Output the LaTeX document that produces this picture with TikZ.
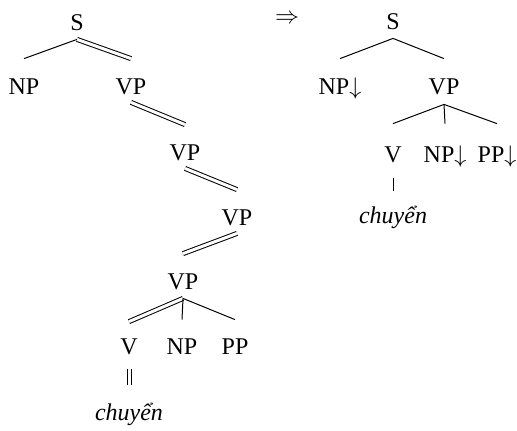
\documentclass[tikz,border=0pt]{standalone}
\usepackage{fontspec}
\setmainfont{Liberation Serif}
\begin{document}
\begin{tikzpicture}[x=0.5pt, y=-0.5pt,
    cat/.style={inner sep=0pt, text height=8pt, text depth=0pt, font=\fontsize{12}{14}\selectfont},
    lex/.style={cat, font=\fontsize{12}{14}\selectfont\itshape},
    br/.style={line width=0.5pt},
    dbl/.style={double, double distance=1.5pt, line width=0.5pt}]
\useasboundingbox (0,0) rectangle (517,430);

% Derived tree (left)
\node[cat] (s) at (77,22) {S};
\node[cat] (np) at (24,86) {NP};
\node[cat] (vp) at (131,86) {VP};
\node[cat] (vpb) at (185,152) {VP};
\node[cat] (vpc) at (237,217) {VP};
\node[cat] (vpd) at (183,281) {VP};
\node[cat] (v) at (129,346) {V};
\node[cat] (npo) at (182,346) {NP};
\node[cat] (pp) at (235,346) {PP};
\node[lex] (word) at (129,412) {chuyển};

\draw[dbl] ([yshift=-4.5pt]s.south) -- ([yshift=9.5pt]vp.north);
\draw[br] ([yshift=-4.5pt]s.south) -- ([yshift=9.5pt]np.north);
% spine of adjoined VPs
\foreach \a/\b in {vp/vpb, vpb/vpc, vpc/vpd}
    \draw[dbl] ([yshift=-4pt]\a.south) -- ([yshift=9.5pt]\b.north);
\draw[dbl] ([yshift=-4.5pt]vpd.south) -- ([yshift=8pt]v.north);
\draw[br] ([yshift=-4.5pt]vpd.south) -- ([yshift=9pt]npo.north);
\draw[br] ([yshift=-4.5pt]vpd.south) -- ([yshift=9pt]pp.north);
\draw[dbl] ([yshift=-7.5pt]v.south) -- ([yshift=9.5pt]word.north);

% Elementary tree (right)
\node[cat] (impl) at (287,15) {$\Rightarrow$};
\node[cat] (rs) at (393,21) {S};
\node[cat] (rnp) at (340,86) {NP$\downarrow$};
\node[cat] (rvp) at (444,86) {VP};
\node[cat] (rv) at (393,154) {V};
\node[cat] (rnpo) at (445,154) {NP$\downarrow$};
\node[cat] (rpp) at (497,154) {PP$\downarrow$};
\node[lex] (rword) at (393,215) {chuyển};

\draw[br] ([yshift=-4.5pt]rs.south) -- ([yshift=9.5pt]rnp.north);
\draw[br] ([yshift=-4.5pt]rs.south) -- ([yshift=9.5pt]rvp.north);
\foreach \c in {rv, rnpo, rpp}
    \draw[br] ([yshift=-5pt]rvp.south) -- ([yshift=11pt]\c.north);
\draw[br] ([yshift=-8pt]rv.south) -- ([yshift=8pt]rword.north);
\end{tikzpicture}
\end{document}
